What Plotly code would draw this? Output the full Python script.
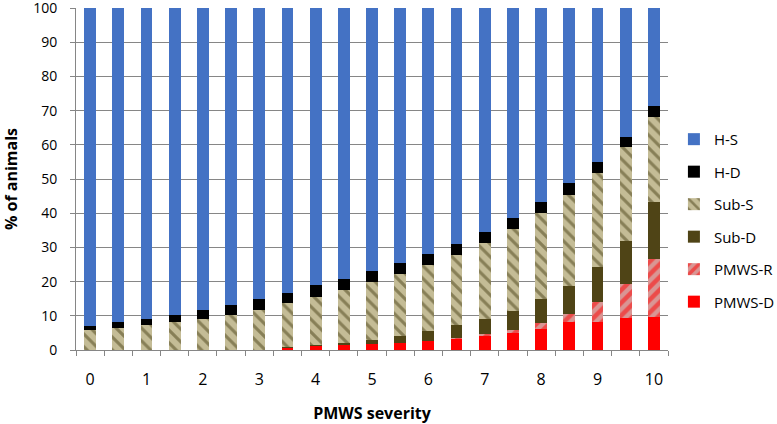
import plotly.graph_objects as go

severity = ["0", "0.5", "1", "1.5", "2", "2.5", "3", "3.5", "4", "4.5", "5",
            "5.5", "6", "6.5", "7", "7.5", "8", "8.5", "9", "9.5", "10"]
tick_labels = ["0", "", "1", "", "2", "", "3", "", "4", "", "5",
               "", "6", "", "7", "", "8", "", "9", "", "10"]

pmws_d = [0, 0, 0, 0, 0, 0, 0, 0.6, 1.2, 1.4, 1.7, 2.0, 2.7, 3.4, 4.3, 4.9, 6.0, 8.3, 8.3, 9.4, 9.7]
pmws_r = [0, 0, 0, 0, 0, 0, 0, 0, 0, 0, 0, 0, 0, 0.1, 0.3, 0.9, 1.8, 2.2, 5.8, 10.0, 17.0]
sub_d = [0, 0, 0, 0, 0, 0, 0, 0.2, 0.3, 0.6, 1.3, 2.0, 2.9, 3.8, 4.6, 5.7, 7.0, 8.1, 10.2, 12.6, 16.5]
sub_s = [5.8, 6.5, 7.3, 8.2, 9.1, 10.2, 11.7, 12.9, 14.1, 15.6, 16.9, 18.3, 19.2, 20.6, 22.2, 23.9, 25.2, 26.8, 27.6, 27.4, 25.0]
h_d = [1.3, 1.6, 1.7, 2.0, 2.5, 2.9, 3.2, 3.1, 3.3, 3.3, 3.1, 3.1, 3.2, 3.2, 3.2, 3.1, 3.2, 3.3, 3.1, 3.0, 3.2]
h_s = [round(100 - a - b - c - d - e, 1) for a, b, c, d, e in zip(pmws_d, pmws_r, sub_d, sub_s, h_d)]

FONT = "Open Sans"

fig = go.Figure()
series = [
    ("PMWS-D", pmws_d, dict(color="#FF0000"), 6),
    ("PMWS-R", pmws_r, dict(color="#D99694",
                            pattern=dict(shape="/", bgcolor="#D99694", fgcolor="#FF0000",
                                         size=9, solidity=0.5, fillmode="overlay")), 5),
    ("Sub-D", sub_d, dict(color="#4F4416"), 4),
    ("Sub-S", sub_s, dict(color="#C4BC96",
                          pattern=dict(shape="\\", bgcolor="#C4BC96", fgcolor="#4A4218",
                                       size=9, solidity=0.35, fillmode="overlay")), 3),
    ("H-D", h_d, dict(color="#000000"), 2),
    ("H-S", h_s, dict(color="#4472C4"), 1),
]
for name, vals, marker, rank in series:
    marker = dict(marker)
    marker["line"] = dict(width=0)
    fig.add_trace(go.Bar(x=severity, y=vals, name=name, marker=marker,
                         legendgroup=name, legendrank=rank))

fig.update_layout(
    barmode="stack",
    bargap=0.58,
    width=777, height=424,
    margin=dict(l=76, r=109, t=8, b=74, autoexpand=False),
    paper_bgcolor="white", plot_bgcolor="white",
    font=dict(family=FONT, size=16, color="#000000"),
    showlegend=True,
    legend=dict(traceorder="grouped", tracegroupgap=10,
                x=1.01, xanchor="left", y=0.664, yanchor="top",
                font=dict(family=FONT, size=15), bgcolor="rgba(0,0,0,0)",
                itemwidth=30),
)
fig.update_xaxes(
    type="category", automargin=False,
    tickmode="array", tickvals=severity, ticktext=tick_labels, tickangle=0,
    tickson="boundaries", ticks="outside", ticklen=5, tickcolor="#868686",
    showline=True, linecolor="#868686", linewidth=1,
    showgrid=False, ticklabelstandoff=15,
    tickfont=dict(family=FONT, size=16),
    title=dict(text="<b>PMWS severity</b>", font=dict(family=FONT, size=16), standoff=18),
    range=[-0.5, 20.5],
)
fig.update_yaxes(
    range=[0, 100], dtick=10, tick0=0, automargin=False,
    ticks="outside", ticklen=5, tickcolor="#868686",
    showline=True, linecolor="#868686", linewidth=1,
    showgrid=True, gridcolor="#868686", gridwidth=1,
    zeroline=False, ticklabeloverflow="allow", ticklabelstandoff=10,
    tickfont=dict(family=FONT, size=14),
    title=dict(text="<b>% of animals</b>", font=dict(family=FONT, size=16), standoff=24),
)

fig.write_html("out.html", config={"displayModeBar": False},
               post_script="document.body.style.margin='0';")
